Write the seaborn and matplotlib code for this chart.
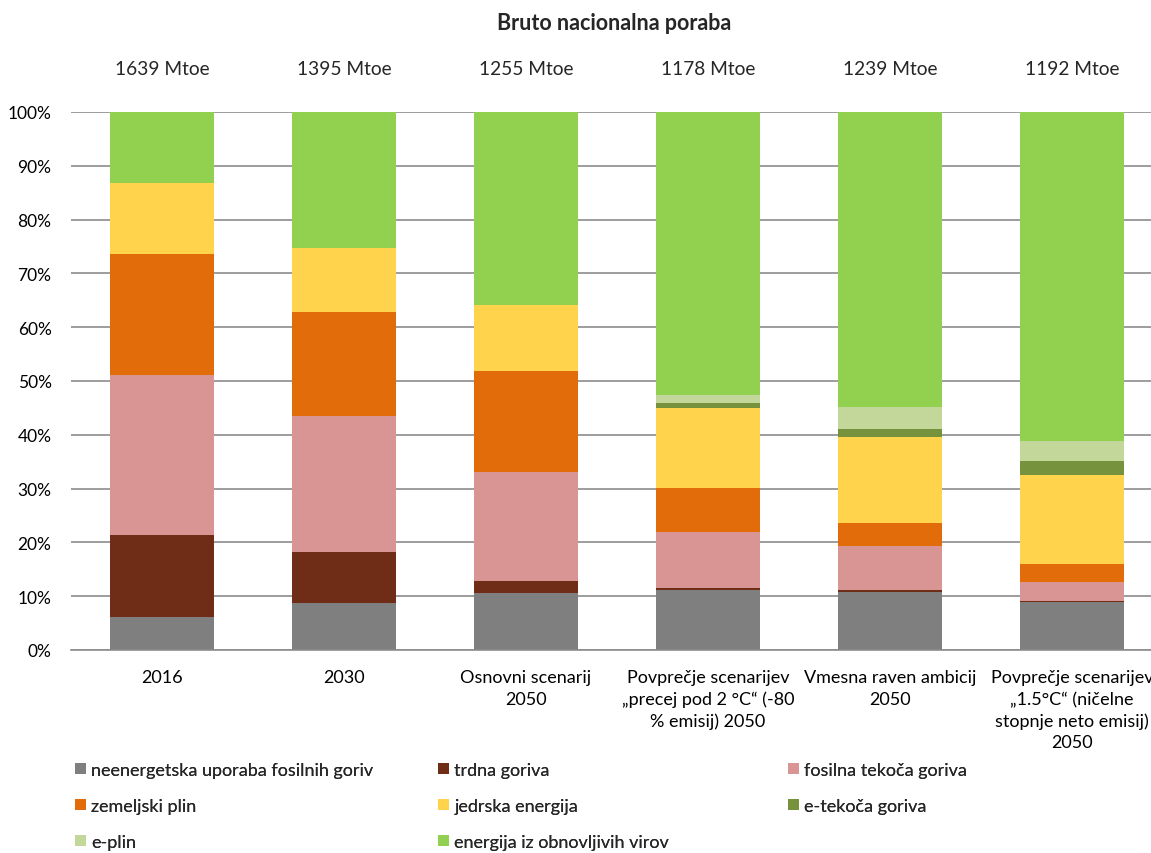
import numpy as np
import seaborn as sns
import matplotlib.pyplot as plt
from matplotlib.patches import Patch
from matplotlib.transforms import blended_transform_factory

sns.set_theme(style="white")
plt.rcParams["font.family"] = ["Lato", "DejaVu Sans"]

# Data (shares in %)
categories = [
    "2016",
    "2030",
    "Osnovni scenarij\n2050",
    "Povprečje scenarijev\n„precej pod 2 °C“ (-80\n% emisij) 2050",
    "Vmesna raven ambicij\n2050",
    "Povprečje scenarijev\n„1.5°C“ (ničelne\nstopnje neto emisij)\n2050",
]
totals = ["1639 Mtoe", "1395 Mtoe", "1255 Mtoe", "1178 Mtoe", "1239 Mtoe", "1192 Mtoe"]

series_names = [
    "neenergetska uporaba fosilnih goriv",
    "trdna goriva",
    "fosilna tekoča goriva",
    "zemeljski plin",
    "jedrska energija",
    "e-tekoča goriva",
    "e-plin",
    "energija iz obnovljivih virov",
]
neenergetska = [6.1, 8.7, 10.6, 11.2, 10.8, 9.0]
trdna = [15.3, 9.5, 2.2, 0.3, 0.4, 0.1]
fosilna = [29.7, 25.3, 20.3, 10.4, 8.2, 3.6]
zemeljski = [22.5, 19.3, 18.8, 8.2, 4.2, 3.2]
jedrska = [13.2, 11.9, 12.2, 14.9, 15.9, 16.7]
e_tekoca = [0.0, 0.0, 0.0, 0.9, 1.6, 2.5]
e_plin = [0.0, 0.0, 0.0, 1.5, 4.1, 3.7]
obnovljivi = [13.2, 25.3, 35.9, 52.6, 54.8, 61.2]

colors = ["#7F7F7F", "#6F2C17", "#D99594", "#E36C0A", "#FFD34B",
          "#76923C", "#C4D79B", "#92D050"]

series = [neenergetska, trdna, fosilna, zemeljski, jedrska, e_tekoca, e_plin, obnovljivi]

fs = 13

fig = plt.figure(figsize=(11.51, 8.54), dpi=100)
ax = fig.add_axes([71 / 1151, 1 - 651 / 854, 1092 / 1151, 538 / 854])

# Stacked bars
bottom = np.zeros(len(categories))
for name, vals, col in zip(series_names, series, colors):
    sns.barplot(x=categories, y=vals, bottom=bottom, color=col, width=0.57,
                saturation=1, linewidth=0, ax=ax, order=categories, label=name)
    bottom = bottom + np.array(vals)

ax.set_ylim(0, 100)
ax.set_xlim(-0.5, len(categories) - 0.5)
ax.set_yticks(range(0, 101, 10))
ax.set_yticklabels([f"{v}%" for v in range(0, 101, 10)], fontsize=12.5, color="#000000")
ax.tick_params(axis="x", length=0, pad=14, labelsize=fs, labelcolor="#000000")
ax.tick_params(axis="y", length=0, pad=14)
ax.yaxis.grid(True, color="#8C8C8C", linewidth=1.2)
ax.set_axisbelow(True)
for s in ["top", "right", "left"]:
    ax.spines[s].set_visible(False)
ax.spines["bottom"].set_color("#8C8C8C")
ax.spines["bottom"].set_linewidth(1.2)
ax.set_xlabel("")
ax.set_ylabel("")
for lbl in ax.get_xticklabels():
    lbl.set_linespacing(1.4)
    lbl.set_verticalalignment("top")
if ax.get_legend() is not None:
    ax.get_legend().remove()

# Totals above bars
tr = blended_transform_factory(ax.transData, ax.transAxes)
for i, t in enumerate(totals):
    ax.text(i, (651 - 70) / 538, t, transform=tr, ha="center", va="center",
            fontsize=13.8)

fig.text(614 / 1151, 1 - 24 / 854, "Bruto nacionalna poraba", ha="center",
         va="center", fontsize=15.5, fontweight="bold")

# Legend: three columns placed like the original
handles = [Patch(facecolor=c, edgecolor="none") for c in colors]
columns = [[0, 3, 6], [1, 4, 7], [2, 5]]
col_x = [75, 438, 788]
for cx, idx in zip(col_x, columns):
    leg = fig.legend([handles[i] for i in idx], [series_names[i] for i in idx],
                     loc="upper left", bbox_to_anchor=(cx / 1151, 1 - 763 / 854),
                     frameon=False, fontsize=fs, handlelength=0.6,
                     handleheight=0.6, handletextpad=0.3, labelspacing=1.1,
                     borderaxespad=0, borderpad=0)
    fig.add_artist(leg)

plt.savefig("out.png", dpi=100)
